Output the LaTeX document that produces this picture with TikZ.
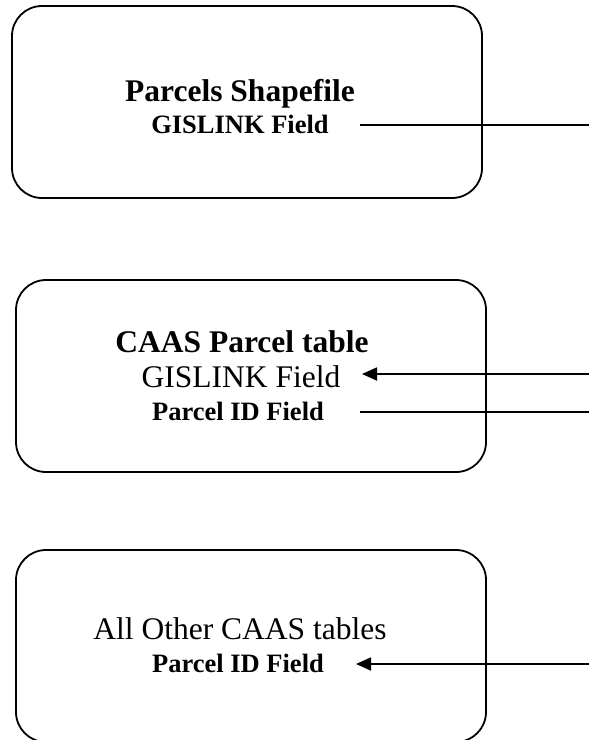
\documentclass[tikz,border=0pt]{standalone}
\usepackage{fontspec}
\setmainfont{Liberation Serif}
\usetikzlibrary{arrows.meta}
\tikzset{
  box/.style={draw, line width=1.8pt, rounded corners=30pt, minimum width=470pt, minimum height=192pt, inner sep=0pt},
  big/.style={anchor=base, inner sep=0pt, font=\fontsize{31.5}{36}\selectfont},
  bigbold/.style={anchor=base, inner sep=0pt, font=\fontsize{31.5}{36}\selectfont\bfseries},
  small/.style={anchor=base, inner sep=0pt, font=\fontsize{26.5}{30}\selectfont\bfseries},
  link/.style={line width=1.8pt},
  linkarrow/.style={line width=1.8pt, -{Triangle[length=15pt,width=13pt]}}
}
\begin{document}
\begin{tikzpicture}[x=1pt,y=1pt]
\useasboundingbox (0,0) rectangle (589,-740);
% boxes
\node[box] (b1) at (247,-102) {};
\node[box] (b2) at (251,-376) {};
\node[box] (b3) at (251,-646) {};
% texts
\node[bigbold] (t1a) at (240,-101) {Parcels Shapefile};
\node[small] (t1b) at (240,-133) {GISLINK Field};
\node[bigbold] (t2a) at (242,-352) {CAAS Parcel table};
\node[big] (t2b) at (241,-387) {GISLINK Field};
\node[small] (t2c) at (238,-420) {Parcel ID Field};
\node[big] (t3a) at (240,-639) {All Other CAAS tables};
\node[small] (t3b) at (238,-672) {Parcel ID Field};
% connector ends
\coordinate (c1s) at (360,-125);
\coordinate (c1e) at (589,-125);
\coordinate (c2s) at (589,-374);
\coordinate (c2e) at (362,-374);
\coordinate (c3s) at (360,-412);
\coordinate (c3e) at (589,-412);
\coordinate (c4s) at (589,-664);
\coordinate (c4e) at (356,-664);
% connectors
\draw[link] (c1s) -- (c1e);
\draw[linkarrow] (c2s) -- (c2e);
\draw[link] (c3s) -- (c3e);
\draw[linkarrow] (c4s) -- (c4e);
\end{tikzpicture}
\end{document}
